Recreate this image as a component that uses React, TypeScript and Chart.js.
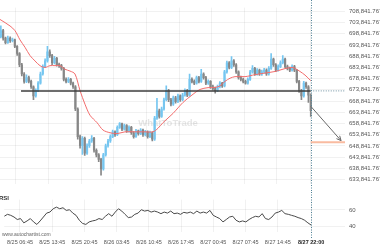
import React, { useEffect, useRef } from "react";
import { Chart, registerables } from "chart.js";
Chart.register(...registerables);

// ---- candle data (30-minute candles, time in hours since 8/25 00:00) ----
const candleStart = 3.5;
const candleStep = 0.5;
const firstOpen = 697.5; // thousands
const closes = [
  700.2, 696.9, 694.9, 696.9, 695.7, 696.1, 693.2, 690.0, 685.0, 680.9,
  677.6, 679.3, 677.6, 675.2, 671.1, 673.5, 676.8, 680.9, 684.2, 686.7,
  690.8, 689.1, 685.9, 687.9, 685.0, 684.6, 683.4, 678.5, 677.6, 678.5,
  676.8, 675.2, 665.3, 653.0, 648.9, 652.2, 645.6, 648.9, 651.0, 652.2,
  646.9, 644.8, 642.8, 638.6, 644.8, 648.9, 651.0, 653.0, 655.1, 653.8,
  657.1, 658.8, 656.3, 657.9, 655.5, 657.1, 654.7, 653.0, 655.5, 654.3,
  655.9, 653.8, 655.1, 653.0, 654.7, 651.8, 661.2, 664.5, 662.0, 665.3,
  669.4, 673.5, 669.4, 667.4, 670.3, 668.6, 671.1, 669.4, 671.5, 673.5,
  671.5, 678.5, 677.6, 676.8, 679.3, 677.6, 680.9, 679.3, 676.8, 677.6,
  675.2, 674.4, 673.5, 675.2, 676.8, 675.6, 681.8, 685.9, 683.8, 686.7,
  685.0, 681.8, 679.3, 678.5, 677.6, 676.8, 678.5, 681.8, 683.4, 680.9,
  682.6, 680.9, 681.8, 682.6, 680.9, 683.4, 687.5, 685.0, 682.6, 684.2,
  685.9, 687.5, 684.2, 683.4, 682.6, 684.2, 682.6, 677.6, 673.5, 671.1,
  676.8, 675.2, 671.5, 664.5,
];
const highs = [
  702.3, 700.8, 697.3, 697.8, 697.4, 696.9, 696.5, 693.6, 690.4, 685.6,
  681.5, 680.5, 680.0, 678.2, 675.6, 674.3, 677.5, 681.7, 685.0, 687.6,
  693.2, 691.6, 689.7, 688.8, 688.3, 685.8, 685.2, 683.8, 679.2, 679.3,
  679.0, 677.3, 675.7, 665.8, 653.6, 653.0, 652.8, 649.7, 651.8, 653.4,
  652.7, 647.5, 645.4, 643.3, 645.5, 649.6, 651.8, 653.8, 655.9, 655.6,
  657.8, 659.2, 659.0, 658.6, 658.3, 657.8, 657.5, 655.2, 656.2, 655.9,
  656.6, 656.3, 655.8, 655.5, 655.4, 655.1, 662.0, 670.0, 665.3, 666.1,
  670.2, 675.6, 674.0, 670.0, 671.0, 670.9, 671.9, 671.6, 672.3, 674.3,
  674.0, 680.9, 679.2, 678.3, 680.0, 679.8, 683.0, 681.4, 679.8, 678.3,
  678.0, 675.9, 675.0, 675.9, 677.5, 677.2, 682.5, 686.6, 686.4, 688.7,
  687.3, 685.5, 682.3, 680.0, 679.1, 678.2, 679.2, 682.5, 684.6, 683.9,
  683.3, 683.1, 682.6, 683.4, 683.2, 684.2, 690.0, 688.0, 685.5, 685.0,
  686.7, 689.1, 688.0, 684.9, 684.0, 685.0, 684.7, 683.0, 678.1, 674.0,
  677.6, 677.3, 675.7, 672.0,
];
const lows = [
  697.0, 696.0, 694.3, 694.5, 695.0, 695.2, 692.6, 689.2, 684.2, 680.0,
  676.8, 677.0, 676.9, 674.5, 669.4, 670.5, 673.0, 676.3, 680.4, 683.7,
  686.2, 688.3, 685.0, 685.4, 684.4, 683.8, 682.6, 677.8, 676.9, 677.0,
  676.0, 674.5, 664.5, 651.8, 647.8, 645.0, 644.6, 645.0, 648.2, 650.4,
  646.0, 643.9, 641.8, 635.8, 638.0, 644.2, 648.3, 650.4, 652.5, 653.1,
  653.4, 656.6, 655.6, 655.8, 654.8, 655.0, 654.0, 652.3, 652.6, 653.6,
  653.8, 653.1, 653.3, 652.3, 652.5, 651.0, 651.3, 660.6, 661.2, 661.5,
  664.8, 668.9, 668.6, 666.6, 666.9, 667.9, 668.1, 668.7, 668.9, 671.0,
  670.8, 671.0, 676.9, 676.1, 676.3, 676.9, 677.1, 678.6, 676.1, 676.2,
  674.5, 673.7, 672.3, 673.0, 674.7, 674.9, 675.1, 681.3, 683.1, 683.3,
  684.3, 681.1, 678.6, 677.8, 676.9, 676.4, 676.3, 678.0, 681.3, 680.2,
  680.4, 680.2, 680.3, 681.2, 680.3, 680.4, 682.9, 684.3, 681.9, 682.1,
  683.7, 685.4, 683.5, 682.7, 681.9, 682.1, 681.9, 676.9, 672.7, 669.4,
  670.6, 674.5, 668.2, 662.0,
];

// ---- moving average ----
const maHours = [
  3.32, 5.47, 6.54, 7.61, 8.68, 9.76, 10.83, 11.9, 12.98, 14.05,
  15.12, 16.2, 17.27, 18.34, 19.41, 20.49, 21.56, 22.63, 24.14, 25.42,
  26.92, 28.43, 30.14, 32.29, 34.44, 36.15, 37.23, 38.3, 40.44, 42.59,
  44.52, 46.24, 47.96, 49.46, 50.53, 51.6, 52.68, 53.75, 55.9, 56.97,
  58.04, 60.19, 62.33, 63.83, 64.91, 65.98, 66.62, 67.7, 68.77, 70.0,
];
const maValues = [
  705.2, 702.3, 700.2, 696.1, 692.8, 689.1, 686.7, 684.6, 683.8, 684.6,
  684.6, 684.6, 683.0, 682.2, 680.9, 673.5, 667.4, 662.5, 659.2, 655.9,
  654.7, 654.3, 655.1, 655.1, 655.1, 655.1, 656.7, 659.2, 663.3, 668.2,
  671.5, 674.0, 674.8, 674.9, 675.6, 677.6, 679.0, 679.7, 679.7, 680.1,
  680.6, 681.3, 682.0, 682.9, 683.5, 683.8, 683.4, 682.0, 680.4, 677.9,
];

// ---- RSI ----
const rsiStart = 3.32;
const rsiEnd = 70.0;
const rsiValues = [
  52.4, 54.7, 53.5, 51.5, 48.5, 49.6, 44.5, 46.8, 49.6, 45.6,
  42.6, 46.8, 51.5, 56.2, 57.4, 61.4, 63.3, 61.4, 62.6, 59.4,
  60.2, 56.2, 53.5, 47.6, 43.8, 42.6, 45.6, 46.8, 47.6, 49.6,
  48.5, 52.4, 55.5, 52.4, 57.4, 61.4, 58.6, 54.7, 50.8, 51.5,
  54.7, 56.2, 60.2, 58.6, 59.4, 57.4, 58.6, 57.4, 55.5, 57.4,
  56.2, 58.6, 55.5, 56.2, 54.7, 57.1, 56.2, 57.4, 55.5, 58.6,
  56.2, 57.4, 56.2, 59.4, 53.5, 51.5, 49.6, 45.6, 48.5, 51.5,
  52.4, 47.6, 45.6, 46.8, 45.6, 48.5, 50.8, 52.4, 51.5, 55.5,
  49.6, 48.5, 51.5, 56.2, 57.4, 59.4, 55.5, 54.7, 53.5, 52.4,
  50.8, 49.6, 47.6, 44.5, 41.8,
];

// ---- axes ----
const timeTicks = [6.75, 13.75, 20.75, 27.75, 34.75, 41.75, 48.75, 55.75, 62.75, 70];
const timeLabels = [
  "8/25 06:45", "8/25 13:45", "8/25 20:45", "8/26 03:45", "8/26 10:45",
  "8/26 17:45", "8/27 00:45", "8/27 07:45", "8/27 14:45", "8/27 22:00",
];
const priceTicks = [
  708.841767, 703.841767, 698.841767, 693.841767, 688.841767, 683.841767,
  678.841767, 673.841767, 668.841767, 663.841767, 658.841767, 653.841767,
  648.841767, 643.841767, 638.841767, 633.841767,
];
const priceTickLabels = [
  "708,841.767", "703,841.767", "698,841.767", "693,841.767", "688,841.767", "683,841.767",
  "678,841.767", "673,841.767", "668,841.767", "663,841.767", "658,841.767", "653,841.767",
  "648,841.767", "643,841.767", "638,841.767", "633,841.767",
];
const rsiTicks = [40, 60];

// ---- pattern annotations ----
const supportLevel = 673.35;
const supportStart = 7.83;
const eventTime = 70.0;
const targetLevel = 650.5;
const arrowFrom = [70.0, 666.5];
const arrowTo = [76.5, 651.2];

const X_MIN = 3.32;
const X_MAX = 77.35;
const FONT = "'Liberation Sans', Arial, sans-serif";
const UP = "rgb(118,198,240)";
const DOWN = "rgb(135,135,135)";
const GRID = "rgba(0,0,0,0.055)";

export default function App() {
  const priceRef = useRef<HTMLCanvasElement>(null);
  const rsiRef = useRef<HTMLCanvasElement>(null);

  useEffect(() => {
    const times = closes.map((_, i) => candleStart + i * candleStep);
    const opens = closes.map((_, i) => (i === 0 ? firstOpen : closes[i - 1]));
    const colors = closes.map((c, i) => (c >= opens[i] ? UP : DOWN));

    const priceOverlay = {
      id: "priceOverlay",
      beforeDatasetsDraw(chart: any) {
        const { ctx, chartArea } = chart;
        ctx.save();
        ctx.font = `bold 9.5px ${FONT}`;
        ctx.fillStyle = "rgba(160,160,160,0.28)";
        ctx.textAlign = "center";
        ctx.textBaseline = "middle";
        ctx.fillText("WhatToTrade", chartArea.left + chartArea.width * 0.487, chartArea.top + chartArea.height * 0.656);
        ctx.restore();
      },
      afterDatasetsDraw(chart: any) {
        const { ctx, chartArea } = chart;
        const xs = chart.scales.x;
        const ys = chart.scales.y;
        const ex = xs.getPixelForValue(eventTime);
        ctx.save();
        // support line
        const sy = ys.getPixelForValue(supportLevel);
        ctx.strokeStyle = "#3c3c3c";
        ctx.lineWidth = 1.5;
        ctx.beginPath();
        ctx.moveTo(xs.getPixelForValue(supportStart), sy);
        ctx.lineTo(ex, sy);
        ctx.stroke();
        // dotted extension
        ctx.setLineDash([1, 1.5]);
        ctx.lineWidth = 1;
        ctx.strokeStyle = "rgb(110,145,160)";
        ctx.beginPath();
        ctx.moveTo(ex, sy);
        ctx.lineTo(chartArea.right, sy);
        ctx.stroke();
        // vertical event line
        ctx.strokeStyle = "rgb(80,130,150)";
        ctx.beginPath();
        ctx.moveTo(Math.round(ex) + 0.5, 0);
        ctx.lineTo(Math.round(ex) + 0.5, chart.height);
        ctx.stroke();
        ctx.setLineDash([]);
        // target line
        const ty = ys.getPixelForValue(targetLevel);
        ctx.strokeStyle = "rgba(248,180,150,0.9)";
        ctx.lineWidth = 2;
        ctx.beginPath();
        ctx.moveTo(ex, ty);
        ctx.lineTo(chartArea.right, ty);
        ctx.stroke();
        // arrow
        const ax1 = xs.getPixelForValue(arrowFrom[0]);
        const ay1 = ys.getPixelForValue(arrowFrom[1]);
        const ax2 = xs.getPixelForValue(arrowTo[0]);
        const ay2 = ys.getPixelForValue(arrowTo[1]);
        ctx.strokeStyle = "#6a6a6a";
        ctx.lineWidth = 1;
        ctx.beginPath();
        ctx.moveTo(ax1, ay1);
        ctx.lineTo(ax2, ay2);
        const ang = Math.atan2(ay2 - ay1, ax2 - ax1);
        const L = 5;
        ctx.moveTo(ax2 - L * Math.cos(ang - 0.45), ay2 - L * Math.sin(ang - 0.45));
        ctx.lineTo(ax2, ay2);
        ctx.lineTo(ax2 - L * Math.cos(ang + 0.45), ay2 - L * Math.sin(ang + 0.45));
        ctx.stroke();
        ctx.restore();
      },
    };

    const c1 = new Chart(priceRef.current!, {
      type: "bar",
      data: {
        datasets: [
          {
            type: "bar",
            data: times.map((t, i) => ({ x: t, y: [lows[i], highs[i]] })) as any,
            backgroundColor: colors,
            barThickness: 1,
            grouped: false,
            borderWidth: 0,
            order: 3,
          } as any,
          {
            type: "bar",
            data: times.map((t, i) => ({ x: t, y: [opens[i], closes[i]] })) as any,
            backgroundColor: colors,
            barThickness: 1.5,
            minBarLength: 1,
            grouped: false,
            borderWidth: 0,
            order: 2,
          } as any,
          {
            type: "line",
            data: maHours.map((h, i) => ({ x: h, y: maValues[i] })) as any,
            borderColor: "rgb(242,108,108)",
            borderWidth: 1,
            pointRadius: 0,
            tension: 0.3,
            order: 1,
          } as any,
        ],
      },
      options: {
        animation: false,
        responsive: false,
        devicePixelRatio: 1,
        layout: { padding: 0 },
        plugins: { legend: { display: false }, tooltip: { enabled: false } },
        scales: {
          x: {
            type: "linear",
            min: X_MIN,
            max: X_MAX,
            offset: false,
            afterBuildTicks: (s: any) => { s.ticks = timeTicks.map((v) => ({ value: v })); },
            afterFit: (s: any) => { s.height = 0; },
            ticks: { display: false },
            grid: { color: GRID, drawTicks: false, offset: false },
            border: { display: false },
          },
          y: {
            type: "linear",
            position: "right",
            min: 631.67,
            max: 710.48,
            afterBuildTicks: (s: any) => { s.ticks = priceTicks.map((v) => ({ value: v })); },
            afterFit: (s: any) => { s.width = 35; },
            ticks: {
              autoSkip: false,
              padding: 4,
              color: "#555",
              font: { size: 6, family: FONT },
              callback: (v: any, i: number) => priceTickLabels[i],
            },
            grid: { color: GRID, drawTicks: false },
            border: { display: false },
          },
        },
      } as any,
      plugins: [priceOverlay],
    });

    const rsiTimes = rsiValues.map((_, i) => rsiStart + (i * (rsiEnd - rsiStart)) / (rsiValues.length - 1));

    const rsiOverlay = {
      id: "rsiOverlay",
      afterDatasetsDraw(chart: any) {
        const { ctx, chartArea } = chart;
        const ex = chart.scales.x.getPixelForValue(eventTime);
        ctx.save();
        ctx.setLineDash([1, 1.5]);
        ctx.strokeStyle = "rgb(80,130,150)";
        ctx.lineWidth = 1;
        ctx.beginPath();
        ctx.moveTo(Math.round(ex) + 0.5, 0);
        ctx.lineTo(Math.round(ex) + 0.5, chartArea.bottom + 6);
        ctx.stroke();
        ctx.setLineDash([]);
        ctx.fillStyle = "#333";
        ctx.font = `bold 6px ${FONT}`;
        ctx.textAlign = "left";
        ctx.textBaseline = "middle";
        ctx.fillText("RSI", -1, chartArea.top - 1);
        ctx.fillStyle = "#666";
        ctx.font = `5px ${FONT}`;
        ctx.fillText("www.autochartist.com", 2, chartArea.bottom + 3);
        ctx.restore();
      },
    };

    const c2 = new Chart(rsiRef.current!, {
      type: "line",
      data: {
        datasets: [
          {
            data: rsiTimes.map((t, i) => ({ x: t, y: rsiValues[i] })) as any,
            borderColor: "#4a4a4a",
            borderWidth: 1,
            pointRadius: 0,
            tension: 0,
          },
        ],
      },
      options: {
        animation: false,
        responsive: false,
        devicePixelRatio: 1,
        layout: { padding: { top: 7, left: 0, right: 0, bottom: 0 } },
        plugins: { legend: { display: false }, tooltip: { enabled: false } },
        scales: {
          x: {
            type: "linear",
            min: X_MIN,
            max: X_MAX,
            offset: false,
            afterBuildTicks: (s: any) => { s.ticks = timeTicks.map((v) => ({ value: v })); },
            afterFit: (s: any) => { s.height = 18; },
            ticks: {
              autoSkip: false,
              maxRotation: 0,
              padding: 7,
              color: (ctx: any) => (ctx.index === timeTicks.length - 1 ? "#222" : "#555"),
              font: (ctx: any) =>
                ctx.index === timeTicks.length - 1
                  ? { size: 5.5, family: FONT, weight: "bold" }
                  : { size: 5.5, family: FONT },
              callback: (v: any, i: number) => timeLabels[i],
            },
            grid: { color: GRID, drawTicks: false },
            border: { display: false },
          },
          y: {
            type: "linear",
            position: "right",
            min: 33.53,
            max: 72.35,
            afterBuildTicks: (s: any) => { s.ticks = rsiTicks.map((v) => ({ value: v })); },
            afterFit: (s: any) => { s.width = 35; },
            ticks: {
              autoSkip: false,
              padding: 4,
              color: "#555",
              font: { size: 6, family: FONT },
            },
            grid: { color: GRID, drawTicks: false },
            border: { display: false },
          },
        },
      } as any,
      plugins: [rsiOverlay],
    });

    return () => {
      c1.destroy();
      c2.destroy();
    };
  }, []);

  return (
    <div style={{ position: "absolute", left: 0, top: 0, width: 380, height: 250, background: "#fff" }}>
      <canvas ref={priceRef} width={380} height={192} style={{ position: "absolute", left: 0, top: 0 }} />
      <canvas ref={rsiRef} width={380} height={58} style={{ position: "absolute", left: 0, top: 192 }} />
    </div>
  );
}
